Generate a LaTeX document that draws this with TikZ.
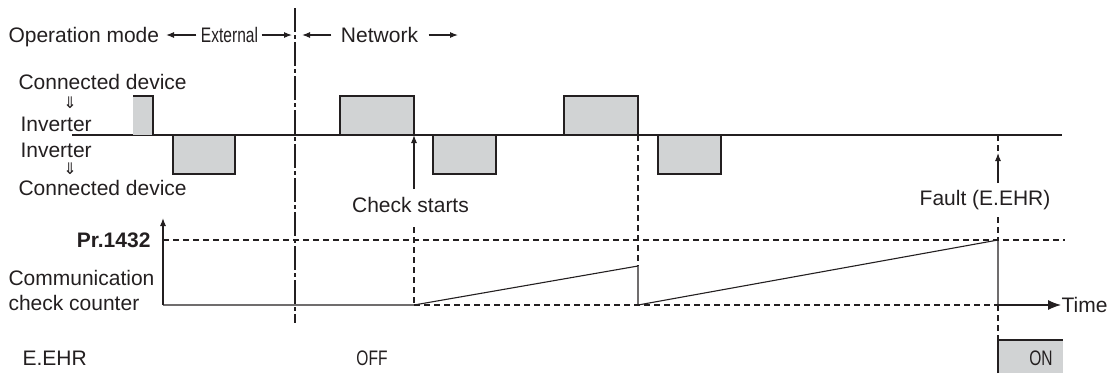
\documentclass[tikz,border=0pt]{standalone}
\usepackage{fontspec}
\setmainfont{Liberation Sans}
\newfontfamily\narrowfont[FakeStretch=0.74]{Liberation Sans}
\newfontfamily\symfont{DejaVu Sans}
\usetikzlibrary{arrows.meta}
\definecolor{pulsegray}{RGB}{209,211,212}
\definecolor{ink}{RGB}{35,31,32}

\begin{document}
\begin{tikzpicture}[x=1pt,y=-1pt,>={Latex[length=8pt,width=6pt]},line width=1.1pt,color=ink]
  \tikzstyle{lbl}=[inner sep=0pt,text height=15pt,text depth=0pt,font=\fontsize{21}{25}\selectfont]
  \tikzstyle{narrow}=[lbl,font=\fontsize{21}{25}\selectfont\narrowfont]
  \tikzstyle{dn}=[inner sep=0pt,text height=9pt,text depth=0pt,font=\symfont\fontsize{16}{16}\selectfont]
  \tikzstyle{pulse}=[fill=pulsegray,draw=ink,line width=1.3pt]
  \tikzstyle{dashedline}=[dash pattern=on 6pt off 4pt]
  \tikzstyle{dashdot}=[dash pattern=on 24pt off 3pt on 4pt off 3pt]

  \useasboundingbox (0,0) rectangle (1110,373);

  % operation mode row
  \node[lbl,anchor=west] (opmode) at (8,35) {Operation mode};
  \node[narrow] (ext) at (229.5,35) {External};
  \node[lbl] (net) at (379.5,35) {Network};
  \coordinate (extL) at (166,35);
  \coordinate (extR) at (292,35);
  \coordinate (netL) at (302,35);
  \coordinate (netR) at (458,35);
  \draw[->] ([xshift=-4pt]ext.west) -- (extL);
  \draw[->] ([xshift=3pt]ext.east) -- (extR);
  \draw[->] ([xshift=-9pt]net.west) -- (netL);
  \draw[->] ([xshift=10pt]net.east) -- (netR);

  % mode change
  \coordinate (modeT) at (295,8);
  \coordinate (modeB) at (295,323);
  \draw[dashdot] (modeT) -- (modeB);

  % message labels
  \node[lbl,anchor=west] (devA) at (18,82) {Connected device};
  \node[dn] (dnA) at (70,104) {⇓};
  \node[lbl,anchor=west] (invA) at (20,124) {Inverter};
  \node[lbl,anchor=west] (invB) at (20,150) {Inverter};
  \node[dn] (dnB) at (70,170) {⇓};
  \node[lbl,anchor=west] (devB) at (18,188) {Connected device};

  % message line
  \coordinate (sigL) at (72,135);
  \coordinate (sigR) at (1062,135);
  \draw (sigL) -- (sigR);
  \fill[pulsegray] (133,96) rectangle (153,135);
  \draw[line width=1.3pt] (133,96) -- (153,96) -- (153,135);
  \foreach \a/\b in {340/414,564/638}
    \draw[pulse] (\a,135) rectangle (\b,96);
  \foreach \a/\b in {173/235,433/496,658/721}
    \draw[pulse] (\a,135) rectangle (\b,174);

  % check starts
  \node[lbl] (chk) at (410.5,205) {Check starts};
  \coordinate (chkT) at (414,135);
  \coordinate (chkM) at (414,189);
  \coordinate (chkB) at (414,305);
  \draw[->] (chkM) -- (chkT);
  \draw[dashedline] ([yshift=-14pt]chk.south -| chkB) -- (chkB);

  % fault
  \node[lbl] (flt) at (985,198) {Fault (E.EHR)};
  \coordinate (fltT) at (998,135);
  \coordinate (fltA) at (998,153);
  \coordinate (fltM) at (998,183);
  \coordinate (fltP) at (998,240);
  \coordinate (fltB) at (998,305);
  \coordinate (fltE) at (998,340);
  \draw[dashedline] (fltT) -- (fltA);
  \draw[->] (fltM) -- (fltA);
  \draw[dashedline] (998,217) -- (fltP);
  \draw[dashedline] (fltB) -- (fltE);

  % counter
  \node[lbl,anchor=east,font=\fontsize{21}{25}\selectfont\bfseries] (pr) at (151,240) {Pr.1432};
  \node[lbl,anchor=west] (cnt1) at (8,278) {Communication};
  \node[lbl,anchor=west] (cnt2) at (8,303) {check counter};
  \coordinate (axB) at (163,305);
  \coordinate (axT) at (163,218);
  \coordinate (prR) at (1065,240);
  \coordinate (rst) at (638,305);
  \coordinate (rstT) at (638,266);
  \draw[->] (axB) -- (axT);
  \draw[dashedline] (axB |- prR) -- (prR);
  \draw[dashedline] (chkB) -- (fltB);
  \draw[dashedline] (638,135) -- (rstT);
  \draw (axB) -- (chkB) -- (rstT) -- (rst) -- (fltP) -- (fltB);
  \node[lbl,anchor=west] (time) at (1061,305) {Time};
  \draw[-{Latex[length=13pt,width=10pt]}] (fltB) -- (time.west);

  % E.EHR output
  \node[lbl,anchor=west] (eehr) at (22,358) {E.EHR};
  \node[narrow] (off) at (372,358) {OFF};
  \fill[pulsegray] (998,340) rectangle (1063,373);
  \draw (998,373) -- (998,340) -- (1063,340);
  \node[narrow] (on) at (1041,358) {ON};
\end{tikzpicture}
\end{document}
